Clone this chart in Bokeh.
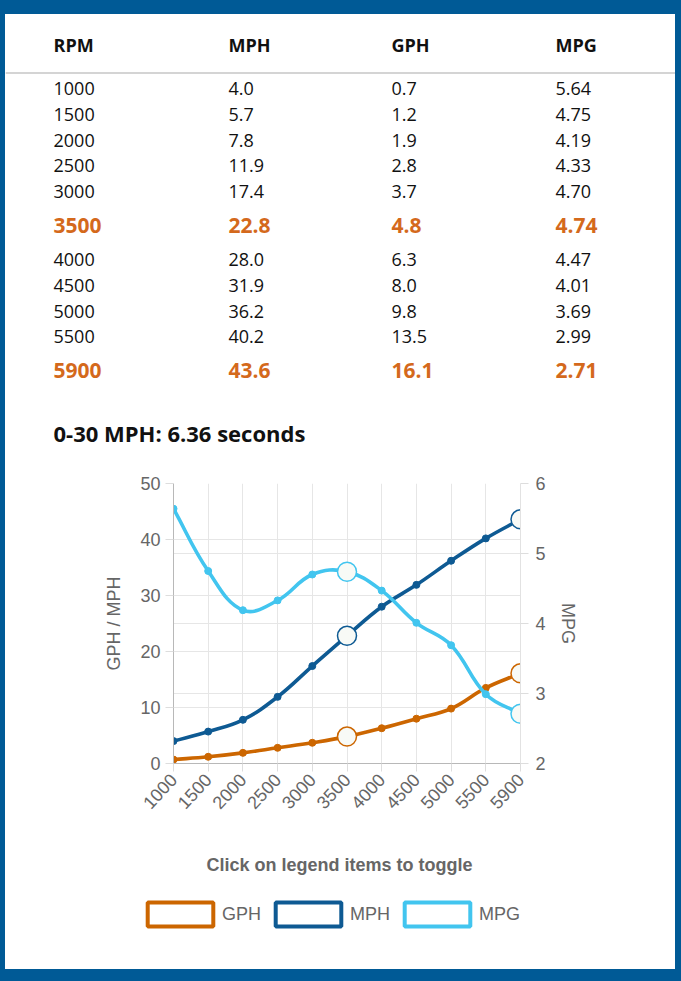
import math
from bokeh.plotting import figure
from bokeh.models import (Range1d, LinearAxis, FixedTicker, Grid, Legend, LegendItem,
                          Span, Label, ColumnDataSource, Spacer)
from bokeh.layouts import row, column
from bokeh.core.properties import value
from bokeh.embed import file_html
from bokeh.resources import INLINE

# ---------------- data ----------------
RPM = ["1000", "1500", "2000", "2500", "3000", "3500", "4000", "4500", "5000", "5500", "5900"]
MPH = [4.0, 5.7, 7.8, 11.9, 17.4, 22.8, 28.0, 31.9, 36.2, 40.2, 43.6]
GPH = [0.7, 1.2, 1.9, 2.8, 3.7, 4.8, 6.3, 8.0, 9.8, 13.5, 16.1]
MPG = [5.64, 4.75, 4.19, 4.33, 4.70, 4.74, 4.47, 4.01, 3.69, 2.99, 2.71]
HIGHLIGHT = ["3500", "5900"]
HEADERS = ["RPM", "MPH", "GPH", "MPG"]
ACCEL = "0-30 MPH: 6.36 seconds"
LEFT_TICKS = [0, 10, 20, 30, 40, 50]
RIGHT_TICKS = [2, 3, 4, 5, 6]
CHART_TITLE = "Click on legend items to toggle"

# ---------------- style ----------------
FRAME_BLUE = "#005a96"
C_GPH = "#cc6600"
C_MPH = "#0e5a93"
C_MPG = "#42c5ef"
C_HI = "#d4691c"
GRAY = "#666666"
GRID = "#e6e6e6"
TFONT = "Open Sans"
CFONT = "Liberation Sans"

W = 670  # white content width


def plain(fig):
    fig.frame_align = False
    fig.outline_line_color = None
    return fig


# ---------------- table figure ----------------
TH = 441
t = plain(figure(width=W, height=TH, x_range=Range1d(0, W), y_range=Range1d(TH, 0),
                 x_axis_type=None, y_axis_type=None, toolbar_location=None,
                 output_backend="svg", min_border=0,
                 background_fill_color="white", border_fill_color="white"))

COL_X = [48, 223, 386, 550]
HEADER_Y = 30
RULE_Y = 58.5
FIRST_Y = 74
ROW_H, ROW_H_HI = 25.8, 42
ACCEL_Y = 418

cols_text = [RPM,
             [f"{v:.1f}" for v in MPH],
             [f"{v:.1f}" for v in GPH],
             [f"{v:.2f}" for v in MPG]]

row_y = []
y = FIRST_Y
prev_h = None
for r in RPM:
    h = ROW_H_HI if r in HIGHLIGHT else ROW_H
    if prev_h is not None:
        y = y + prev_h / 2 + h / 2
    row_y.append(y)
    prev_h = h

reg = dict(x=[], y=[], text=[])
hi = dict(x=[], y=[], text=[])
for i, r in enumerate(RPM):
    target = hi if r in HIGHLIGHT else reg
    for j in range(len(HEADERS)):
        target["x"].append(COL_X[j])
        target["y"].append(row_y[i])
        target["text"].append(cols_text[j][i])

t.text(x=COL_X, y=[HEADER_Y] * len(HEADERS), text=HEADERS,
       text_font=value(TFONT), text_font_size="18px", text_font_style="bold",
       text_color="#111111", text_baseline="middle", text_align="left")
t.text(x="x", y="y", text="text", source=ColumnDataSource(reg),
       text_font=value(TFONT), text_font_size="18px",
       text_color="#111111", text_baseline="middle", text_align="left")
t.text(x="x", y="y", text="text", source=ColumnDataSource(hi),
       text_font=value(TFONT), text_font_size="21px", text_font_style="bold",
       text_color=C_HI, text_baseline="middle", text_align="left")
t.add_layout(Span(location=RULE_Y, dimension="width", line_color="#d4d4d4", line_width=2))
t.add_layout(Label(x=COL_X[0], y=ACCEL_Y, text=ACCEL, text_font=TFONT,
                   text_font_size="22px", text_font_style="bold", text_color="#111111",
                   text_baseline="middle", text_align="left"))

# ---------------- chart figure ----------------
CH = 375
FRAME_W, FRAME_H = 347, 280
n = len(RPM)
p = plain(figure(width=W, height=CH, x_range=Range1d(0, n - 1), y_range=Range1d(0, 50),
                 toolbar_location=None, output_backend="svg",
                 min_border_left=168, min_border_right=155, min_border_top=28,
                 min_border_bottom=67,
                 background_fill_color="white", border_fill_color="white"))
p.extra_y_ranges = {"mpg": Range1d(2, 6)}

xa = p.xaxis[0]
xa.ticker = FixedTicker(ticks=list(range(n)))
xa.major_label_overrides = {i: RPM[i] for i in range(n)}
xa.major_label_orientation = 0.82
ya = p.yaxis[0]
ya.ticker = FixedTicker(ticks=LEFT_TICKS)
ya.axis_label = "GPH / MPH"
ya.axis_label_standoff = 13
ra = LinearAxis(y_range_name="mpg", ticker=FixedTicker(ticks=RIGHT_TICKS), axis_label="MPG")
ra.axis_label_standoff = 9
ra.major_label_standoff = 7
p.add_layout(ra, "right")

for ax in (xa, ya, ra):
    ax.major_tick_in = 0
    ax.major_tick_out = 8
    ax.major_tick_line_color = "#dddddd"
    ax.minor_tick_line_color = None
    ax.major_label_text_font = CFONT
    ax.major_label_text_font_size = "18px"
    ax.major_label_text_color = GRAY
    ax.axis_label_text_font = CFONT
    ax.axis_label_text_font_size = "18px"
    ax.axis_label_text_font_style = "normal"
    ax.axis_label_text_color = GRAY
xa.axis_line_color = "#b8b8b8"
ya.axis_line_color = "#b8b8b8"
ra.axis_line_color = "#e2e2e2"

p.xgrid.ticker = FixedTicker(ticks=list(range(n)))
p.ygrid.ticker = FixedTicker(ticks=LEFT_TICKS)
p.grid.grid_line_color = GRID
p.add_layout(Grid(dimension=1, ticker=FixedTicker(ticks=RIGHT_TICKS), y_range_name="mpg",
                  grid_line_color=GRID))


def spline(xs, ys, kx, ky, tension=0.4):
    px = [v * kx for v in xs]
    py = [v * ky for v in ys]
    m = len(px)
    prv, nxt = [], []
    for i in range(m):
        a = i - 1 if i > 0 else i
        b = i + 1 if i < m - 1 else i
        d01 = math.hypot(px[i] - px[a], py[i] - py[a])
        d12 = math.hypot(px[b] - px[i], py[b] - py[i])
        tot = d01 + d12
        s01 = d01 / tot if tot else 0
        s12 = d12 / tot if tot else 0
        fa, fb = tension * s01, tension * s12
        dx, dy = px[b] - px[a], py[b] - py[a]
        prv.append(((px[i] - fa * dx) / kx, (py[i] - fa * dy) / ky))
        nxt.append(((px[i] + fb * dx) / kx, (py[i] + fb * dy) / ky))
    return dict(x0=xs[:-1], y0=ys[:-1], x1=xs[1:], y1=ys[1:],
                cx0=[c[0] for c in nxt[:-1]], cy0=[c[1] for c in nxt[:-1]],
                cx1=[c[0] for c in prv[1:]], cy1=[c[1] for c in prv[1:]])


xs = list(range(n))
kx = FRAME_W / (n - 1)
series = [("GPH", GPH, C_GPH, "default", FRAME_H / 50),
          ("MPH", MPH, C_MPH, "default", FRAME_H / 50),
          ("MPG", MPG, C_MPG, "mpg", FRAME_H / 4)]
hi_idx = [RPM.index(h) for h in HIGHLIGHT]
for name, vals, col, rng, ky in series:
    seg = spline(xs, vals, kx, ky)
    p.bezier(source=ColumnDataSource(seg), x0="x0", y0="y0", x1="x1", y1="y1",
             cx0="cx0", cy0="cy0", cx1="cx1", cy1="cy1",
             line_color=col, line_width=3.6, y_range_name=rng)
    p.scatter(x=xs, y=vals, size=7, fill_color=col, line_color=col, y_range_name=rng)
    p.scatter(x=[xs[i] for i in hi_idx], y=[vals[i] for i in hi_idx], size=19,
              fill_color="#f8faf6", line_color=col, line_width=1.5, y_range_name=rng)

# ---------------- caption + legend strip ----------------
LH = 139
lg = plain(figure(width=W, height=LH, x_range=Range1d(0, W), y_range=Range1d(LH, 0),
                  x_axis_type=None, y_axis_type=None, toolbar_location=None,
                  output_backend="svg", min_border=0,
                  background_fill_color="white", border_fill_color="white"))
lg.add_layout(Label(x=334, y=34, text=CHART_TITLE, text_align="center",
                    text_baseline="middle", text_font=CFONT, text_font_size="18px",
                    text_font_style="bold", text_color=GRAY))
NAN = float("nan")
legend_items = []
for name, vals, col, rng, ky in series:
    # legend swatch only: NaN geometry draws nothing in the plot area
    q = lg.quad(left=[NAN], right=[NAN], top=[NAN], bottom=[NAN], fill_color="white",
                line_color=col, line_width=4)
    legend_items.append(LegendItem(label=name, renderers=[q]))
legend = Legend(items=legend_items, orientation="horizontal", location=(134, 40),
                glyph_width=82, glyph_height=30, label_standoff=1, spacing=6,
                padding=0, margin=0, border_line_color=None, background_fill_alpha=0,
                label_text_font=CFONT, label_text_font_size="18px",
                label_text_color=GRAY)
lg.add_layout(legend, "center")

white = column(t, p, lg, styles={"background-color": "white"})
inner = column(Spacer(width=W, height=14), white, Spacer(width=W, height=12))
layout = row(Spacer(width=5, height=981), inner, Spacer(width=6, height=981),
             styles={"background-color": FRAME_BLUE})

open("out.html", "w").write(file_html(layout, INLINE))
